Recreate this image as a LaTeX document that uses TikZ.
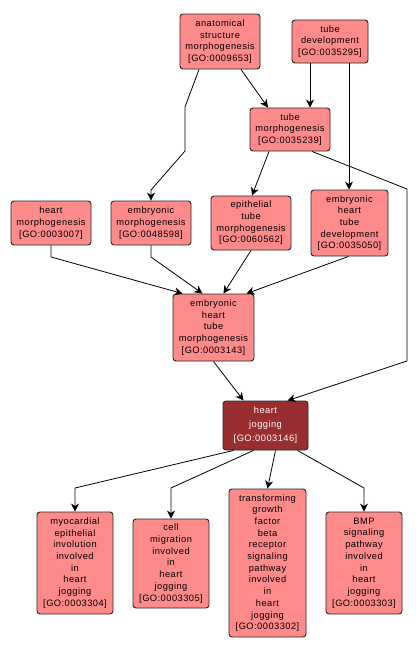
\documentclass[tikz,border=0pt]{standalone}
\usepackage{fontspec}
\setmainfont[LetterSpace=5]{Liberation Sans}
\usetikzlibrary{arrows.meta}
\definecolor{gopink}{RGB}{255,138,138}
\definecolor{gored}{RGB}{154,45,45}
\tikzset{
  goterm/.style={draw=black!85, line width=0.9pt, fill=gopink, rounded corners=3pt,
    inner sep=0pt, align=center, text=black,
    font=\fontsize{9.3}{11.7}\selectfont},
  gohit/.style={goterm, fill=gored, text=white, font=\fontsize{9.3}{14}\selectfont},
  golink/.style={line width=0.8pt, -{Stealth[length=8pt,width=8pt,inset=2.5pt]}}
}

\begin{document}
\begin{tikzpicture}[x=1pt, y=-1pt]
  \fill[white] (0,0) rectangle (418,654);
  \useasboundingbox (0,0) rectangle (418,654);

  % top row
  \node[goterm, minimum width=80pt, minimum height=55pt] (asm) at (220,41.5) {anatomical\\structure\\morphogenesis\\{[GO:0009653]}};
  \node[goterm, minimum width=76pt, minimum height=43pt] (td) at (330,41.5) {tube\\development\\{[GO:0035295]}};
  \node[goterm, minimum width=80pt, minimum height=43pt] (tm) at (290,129.5) {tube\\morphogenesis\\{[GO:0035239]}};

  % middle row
  \node[goterm, minimum width=80pt, minimum height=44pt] (hm) at (51,223) {heart\\morphogenesis\\{[GO:0003007]}};
  \node[goterm, minimum width=80pt, minimum height=44pt] (em) at (151,223) {embryonic\\morphogenesis\\{[GO:0048598]}};
  \node[goterm, minimum width=80pt, minimum height=54pt] (etm) at (251,223) {epithelial\\tube\\morphogenesis\\{[GO:0060562]}};
  \node[goterm, minimum width=77pt, minimum height=66pt] (ehtd) at (349.5,223) {embryonic\\heart\\tube\\development\\{[GO:0035050]}};
  \node[goterm, minimum width=81pt, minimum height=67pt] (ehtm) at (213.5,327.5) {embryonic\\heart\\tube\\morphogenesis\\{[GO:0003143]}};

  % the term itself
  \node[gohit, minimum width=85pt, minimum height=49pt] (hj) at (265.5,425.5) {heart\\jogging\\{[GO:0003146]}};

  % children
  \node[goterm, minimum width=76pt, minimum height=102pt] (mei) at (75,563) {myocardial\\epithelial\\involution\\involved\\in\\heart\\jogging\\{[GO:0003304]}};
  \node[goterm, minimum width=76pt, minimum height=89pt] (cm) at (171,563.5) {cell\\migration\\involved\\in\\heart\\jogging\\{[GO:0003305]}};
  \node[goterm, minimum width=77pt, minimum height=148pt] (tgf) at (267.5,563) {transforming\\growth\\factor\\beta\\receptor\\signaling\\pathway\\involved\\in\\heart\\jogging\\{[GO:0003302]}};
  \node[goterm, minimum width=76pt, minimum height=102pt] (bmp) at (364,563) {BMP\\signaling\\pathway\\involved\\in\\heart\\jogging\\{[GO:0003303]}};

  % links
  \draw[golink] ([xshift=-21pt]asm.south) -- (185,107) -- (185,151) -- (151,190) -- (em.north);
  \draw[golink] ([xshift=21pt]asm.south) -- ([xshift=-22pt]tm.north);
  \draw[golink] ([xshift=-20pt]td.south) -- ([xshift=20pt]tm.north);
  \draw[golink] ([xshift=19pt]td.south) -- ([xshift=-0.5pt]ehtd.north);
  \draw[golink] ([xshift=-21pt]tm.south) -- ([xshift=1pt]etm.north);
  \draw[golink] ([xshift=22pt]tm.south) -- (407,189) -- (407,361) -- ([xshift=22pt]hj.north);
  \draw[golink] (hm.south) -- (51,257) -- ([xshift=-31pt]ehtm.north);
  \draw[golink] (em.south) -- (151,257) -- ([xshift=-11pt]ehtm.north);
  \draw[golink] (etm.south) -- ([xshift=10pt]ehtm.north);
  \draw[golink] ([xshift=-1pt]ehtd.south) -- ([xshift=33pt]ehtm.north);
  \draw[golink] (ehtm.south) -- ([xshift=-22pt]hj.north);
  \draw[golink] ([xshift=-32pt]hj.south) -- (75,488) -- (mei.north);
  \draw[golink] ([xshift=-12pt]hj.south) -- (171,488) -- (cm.north);
  \draw[golink] ([xshift=10pt]hj.south) -- (tgf.north);
  \draw[golink] ([xshift=32pt]hj.south) -- (364,488) -- (bmp.north);
\end{tikzpicture}
\end{document}
